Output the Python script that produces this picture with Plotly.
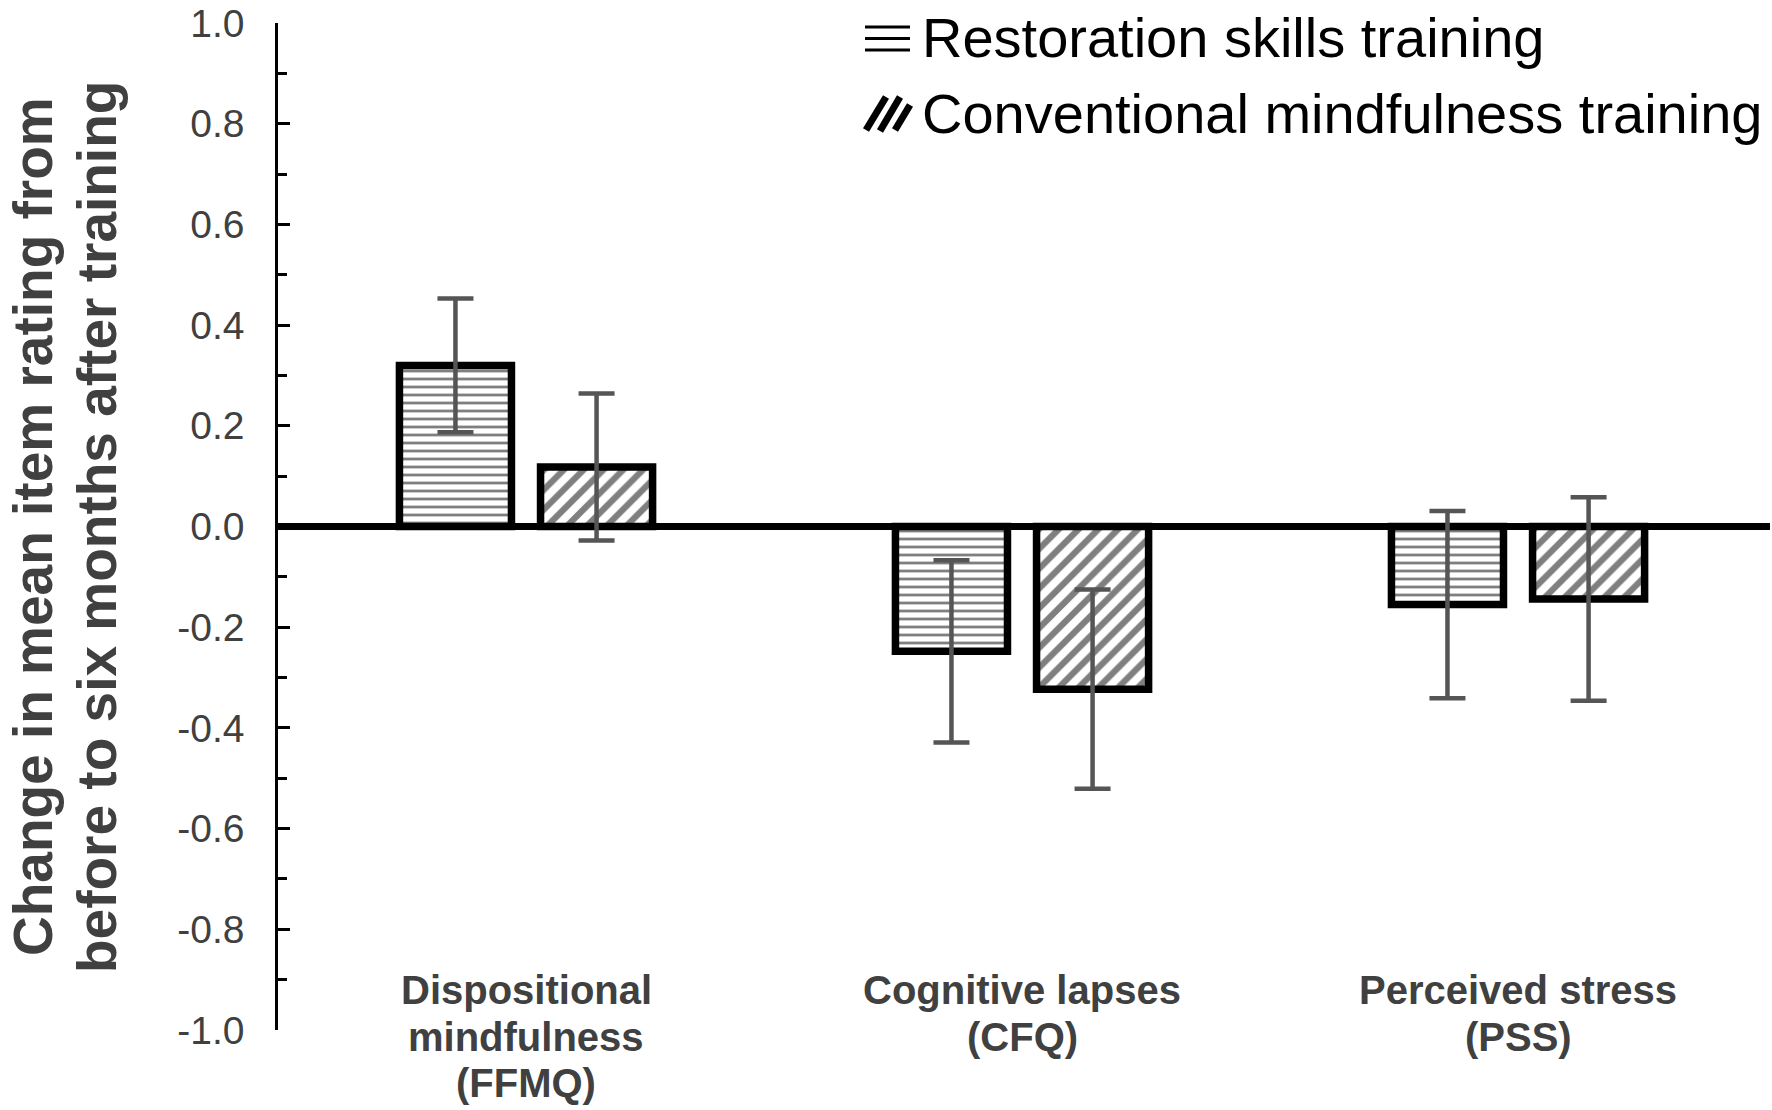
import plotly.graph_objects as go

# ---------------- data ----------------
categories = ["Dispositional mindfulness (FFMQ)", "Cognitive lapses (CFQ)", "Perceived stress (PSS)"]
category_label_lines = [
    ["Dispositional", "mindfulness", "(FFMQ)"],
    ["Cognitive lapses", "(CFQ)"],
    ["Perceived stress", "(PSS)"],
]
series_names = ["Restoration skills training", "Conventional mindfulness training"]
restoration_mean = [0.32, -0.248, -0.155]
restoration_err = [0.133, 0.181, 0.186]
conventional_mean = [0.118, -0.323, -0.144]
conventional_err = [0.146, 0.198, 0.202]

y_tick_vals = [1.0, 0.8, 0.6, 0.4, 0.2, 0.0, -0.2, -0.4, -0.6, -0.8, -1.0]
y_tick_text = ["1.0", "0.8", "0.6", "0.4", "0.2", "0.0", "-0.2", "-0.4", "-0.6", "-0.8", "-1.0"]
y_title_lines = ["Change in mean item rating from", "before to six months after training"]

# ---------------- layout helpers ----------------
W, H = 1772, 1110
ML, MR, MT, MB = 278, 2, 23, 80
PW, PH = W - ML - MR, H - MT - MB


def xp(px):
    return (px - ML) / PW


def yp(py):
    return (H - MB - py) / PH


FONT = "Arial, Liberation Sans, Helvetica, sans-serif"
GRAY = "#404040"
ERR = "#555555"

fig = go.Figure()

fig.add_trace(go.Bar(
    x=categories, y=restoration_mean, name=series_names[0],
    marker=dict(color="white",
                line=dict(color="black", width=7.5),
                pattern=dict(shape="-", fgcolor="black", bgcolor="white", size=8, solidity=0.35)),
    error_y=dict(type="data", array=restoration_err, symmetric=True, color=ERR, thickness=4.5, width=18),
    showlegend=False,
))
fig.add_trace(go.Bar(
    x=categories, y=conventional_mean, name=series_names[1],
    marker=dict(color="white",
                line=dict(color="black", width=7.5),
                pattern=dict(shape="/", fgcolor="black", bgcolor="white", size=14, solidity=0.45)),
    error_y=dict(type="data", array=conventional_err, symmetric=True, color=ERR, thickness=4.5, width=18),
    showlegend=False,
))

annotations = []
# category labels (drawn inside plot, near bottom)
line_y = [990, 1037, 1083]
for cat, lines in zip(categories, category_label_lines):
    for j, txt in enumerate(lines):
        annotations.append(dict(
            x=cat, xref="x", y=yp(line_y[j]), yref="paper",
            text=txt, showarrow=False, xanchor="center", yanchor="middle",
            font=dict(family=FONT, size=40, color=GRAY, weight=700),
        ))

# y-axis title, two lines
for txt, cx in zip(y_title_lines, [33, 97]):
    annotations.append(dict(
        x=xp(cx), xref="paper", y=yp(527), yref="paper",
        text=txt, showarrow=False, textangle=-90,
        xanchor="center", yanchor="middle", borderpad=0,
        font=dict(family=FONT, size=55, color=GRAY, weight=700),
    ))

# legend text
for txt, cy in zip(series_names, [38, 113]):
    annotations.append(dict(
        x=xp(921), xref="paper", y=yp(cy), yref="paper",
        text=txt, showarrow=False, xanchor="left", yanchor="middle", borderpad=0,
        font=dict(family=FONT, size=56, color="black"),
    ))

shapes = []
# legend swatch: horizontal lines
for ly in [27, 38.5, 50]:
    shapes.append(dict(type="line", xref="paper", yref="paper",
                       x0=xp(865), x1=xp(910), y0=yp(ly), y1=yp(ly),
                       line=dict(color="black", width=2.8)))
# legend swatch: diagonal stripes
for (x0, y0, x1, y1) in [(866, 130, 886, 97), (880, 131, 900, 97), (895, 130, 910, 105)]:
    shapes.append(dict(type="line", xref="paper", yref="paper",
                       x0=xp(x0), x1=xp(x1), y0=yp(y0), y1=yp(y1),
                       line=dict(color="black", width=7)))

fig.update_layout(
    width=W, height=H,
    margin=dict(l=ML, r=MR, t=MT, b=MB, pad=0),
    paper_bgcolor="white", plot_bgcolor="white",
    barmode="group", bargap=0.431, bargroupgap=0.206,
    showlegend=False,
    annotations=annotations, shapes=shapes,
    font=dict(family=FONT, color=GRAY),
)
fig.update_xaxes(
    type="category", range=[-0.5, 2.508],
    showline=False, showgrid=False, zeroline=False,
    ticks="", showticklabels=False,
)
fig.update_yaxes(
    range=[-1.0, 1.0],
    tickmode="array", tickvals=y_tick_vals, ticktext=y_tick_text,
    ticks="inside", ticklen=12, tickwidth=2.5, tickcolor="black",
    minor=dict(tickmode="linear", tick0=0, dtick=0.1, ticks="inside", ticklen=9, tickwidth=2.5, tickcolor="black"),
    showline=True, linecolor="black", linewidth=2.5,
    showgrid=False,
    zeroline=True, zerolinecolor="black", zerolinewidth=7,
    tickfont=dict(family=FONT, size=39, color=GRAY),
    ticklabelstandoff=23,
)

fig.write_html("out.html", config={"displayModeBar": False},
               post_script="document.body.style.margin='0px';")
